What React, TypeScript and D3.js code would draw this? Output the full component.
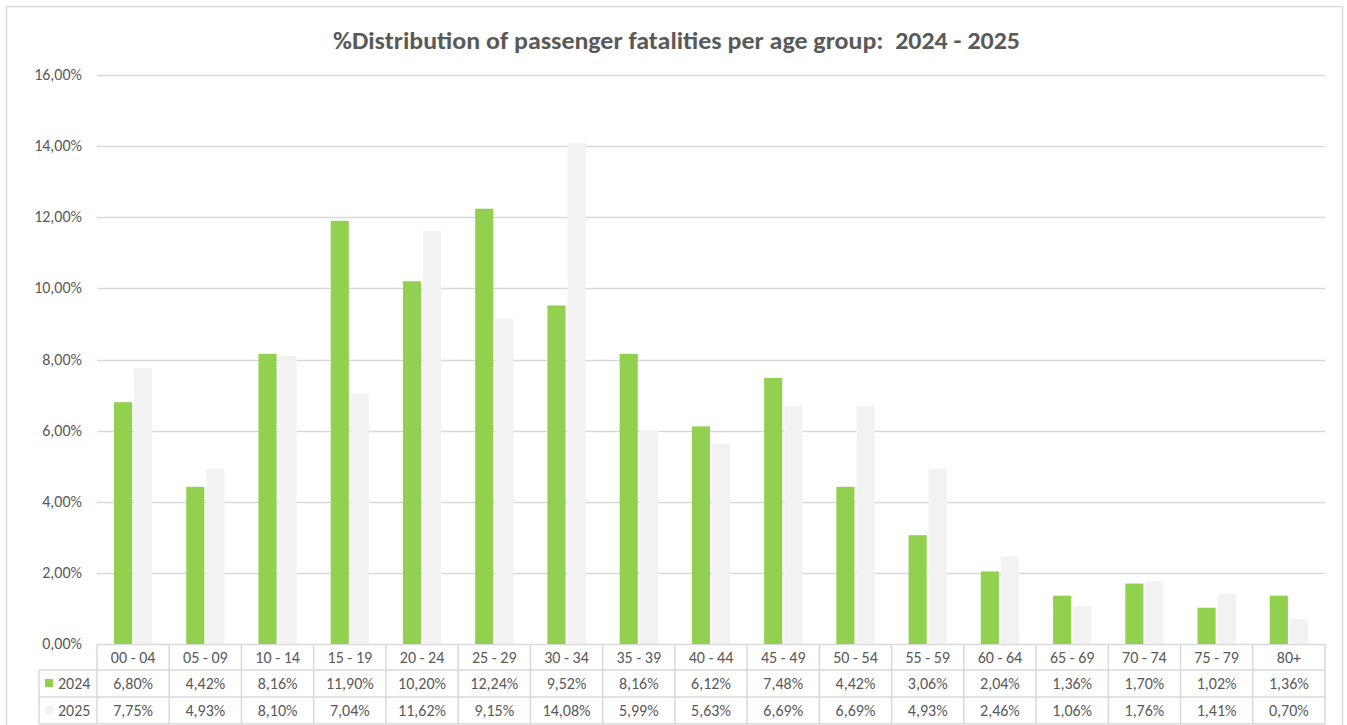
import * as d3 from "d3";
import { useEffect, useRef } from "react";

const ageGroups = ["00 - 04", "05 - 09", "10 - 14", "15 - 19", "20 - 24", "25 - 29", "30 - 34", "35 - 39", "40 - 44", "45 - 49", "50 - 54", "55 - 59", "60 - 64", "65 - 69", "70 - 74", "75 - 79", "80+"];
const values2024 = [6.8, 4.42, 8.16, 11.9, 10.2, 12.24, 9.52, 8.16, 6.12, 7.48, 4.42, 3.06, 2.04, 1.36, 1.7, 1.02, 1.36];
const values2025 = [7.75, 4.93, 8.1, 7.04, 11.62, 9.15, 14.08, 5.99, 5.63, 6.69, 6.69, 4.93, 2.46, 1.06, 1.76, 1.41, 0.7];
const seriesNames = ["2024", "2025"];
const seriesColors = ["#92D050", "#F2F2F2"];
const yTicks = [0, 2, 4, 6, 8, 10, 12, 14, 16];

const fmt = (v: number) => v.toFixed(2).replace(".", ",") + "%";
const FONT = "Calibri, Carlito, Lato, 'Open Sans', sans-serif";

const App = () => {
  const svgRef = useRef<SVGSVGElement | null>(null);

  useEffect(() => {
    const W = 1347;
    const H = 725;
    const margin = { top: 75, right: 22, bottom: 81, left: 97 };
    const width = W - margin.left - margin.right;
    const height = H - margin.top - margin.bottom;
    const svg = d3.select(svgRef.current);
    svg.selectAll("*").remove();
    svg.attr("width", W).attr("height", H);

    svg.append("rect").attr("x", 0).attr("y", 0).attr("width", W).attr("height", H).attr("fill", "#fff");
    // outer chart border
    svg
      .append("rect")
      .attr("x", 6.5)
      .attr("y", 6.5)
      .attr("width", 1336)
      .attr("height", 730)
      .attr("fill", "none")
      .attr("stroke", "#D9D9D9")
      .attr("stroke-width", 1.5);

    svg
      .append("text")
      .attr("x", 333)
      .attr("y", 49)
      .attr("font-family", FONT)
      .attr("font-size", 24)
      .attr("font-weight", "bold")
      .attr("fill", "#595959")
      .attr("textLength", 687)
      .attr("lengthAdjust", "spacingAndGlyphs")
      .style("white-space", "pre")
      .text("%Distribution of passenger fatalities per age group:  2024 - 2025");

    const g = svg.append("g").attr("transform", `translate(${margin.left},${margin.top})`);

    const x = d3.scaleBand<string>().domain(ageGroups).range([0, width]);
    const y = d3.scaleLinear().domain([0, 16]).range([height, 0]);
    const xs = d3
      .scaleBand<string>()
      .domain(seriesNames)
      .range([17, x.bandwidth() - 17])
      .paddingInner(0.1);

    // gridlines
    g.selectAll(".grid")
      .data(yTicks)
      .enter()
      .append("line")
      .attr("x1", 0)
      .attr("x2", width)
      .attr("y1", (d) => Math.round(y(d)) + 0.5)
      .attr("y2", (d) => Math.round(y(d)) + 0.5)
      .attr("stroke", "#D9D9D9")
      .attr("stroke-width", 1.3);

    g.selectAll(".ylab")
      .data(yTicks)
      .enter()
      .append("text")
      .attr("x", -15)
      .attr("y", (d) => y(d) + 5)
      .attr("text-anchor", "end")
      .attr("font-family", FONT)
      .attr("font-size", 16)
      .attr("fill", "#595959")
      .text((d) => fmt(d));

    const series = [values2024, values2025];
    series.forEach((vals, si) => {
      g.selectAll(`.bar${si}`)
        .data(vals)
        .enter()
        .append("rect")
        .attr("x", (_d, i) => (x(ageGroups[i]) as number) + (xs(seriesNames[si]) as number))
        .attr("y", (d) => y(d))
        .attr("width", xs.bandwidth())
        .attr("height", (d) => height - y(d))
        .attr("fill", seriesColors[si]);
    });

    // data table
    const rowH = 26;
    const tableLeft = 39 - margin.left;
    const t = g.append("g").attr("transform", `translate(0,${height})`);
    const lineColor = "#D9D9D9";
    t.append("line").attr("x1", tableLeft).attr("x2", width).attr("y1", rowH).attr("y2", rowH);
    t.append("line").attr("x1", tableLeft).attr("x2", width).attr("y1", rowH * 2 + 1).attr("y2", rowH * 2 + 1);
    t.append("line").attr("x1", tableLeft).attr("x2", width).attr("y1", rowH * 3 + 2).attr("y2", rowH * 3 + 2);
    t.append("line").attr("x1", tableLeft).attr("x2", tableLeft).attr("y1", rowH).attr("y2", rowH * 3 + 2);
    ageGroups.concat(["end"]).forEach((a, i) => {
      const xx = i === ageGroups.length ? width : (x(a) as number);
      t.append("line").attr("x1", xx).attr("x2", xx).attr("y1", 0).attr("y2", rowH * 3 + 2);
    });
    t.selectAll("line").attr("stroke", lineColor).attr("stroke-width", 1.5);

    t.selectAll(".cat")
      .data(ageGroups)
      .enter()
      .append("text")
      .attr("x", (d) => (x(d) as number) + x.bandwidth() / 2)
      .attr("y", 19)
      .attr("text-anchor", "middle")
      .attr("font-family", FONT)
      .attr("font-size", 16)
      .attr("fill", "#595959")
      .style("white-space", "pre")
      .text((d) => d);

    series.forEach((vals, si) => {
      const rowY = rowH * (si + 1) + si + 19;
      t.selectAll(`.val${si}`)
        .data(vals)
        .enter()
        .append("text")
        .attr("x", (_d, i) => (x(ageGroups[i]) as number) + x.bandwidth() / 2)
        .attr("y", rowY)
        .attr("text-anchor", "middle")
        .attr("font-family", FONT)
        .attr("font-size", 16)
        .attr("fill", "#595959")
        .text((d) => fmt(d));
      t.append("rect")
        .attr("x", tableLeft + 6)
        .attr("y", rowY - 10)
        .attr("width", 8)
        .attr("height", 8)
        .attr("fill", seriesColors[si]);
      t.append("text")
        .attr("x", tableLeft + 19)
        .attr("y", rowY)
        .attr("font-family", FONT)
        .attr("font-size", 16)
        .attr("fill", "#595959")
        .text(seriesNames[si]);
    });
  }, []);

  return <svg ref={svgRef} style={{ position: "absolute", left: 0, top: 0 }}></svg>;
};

export default App;
